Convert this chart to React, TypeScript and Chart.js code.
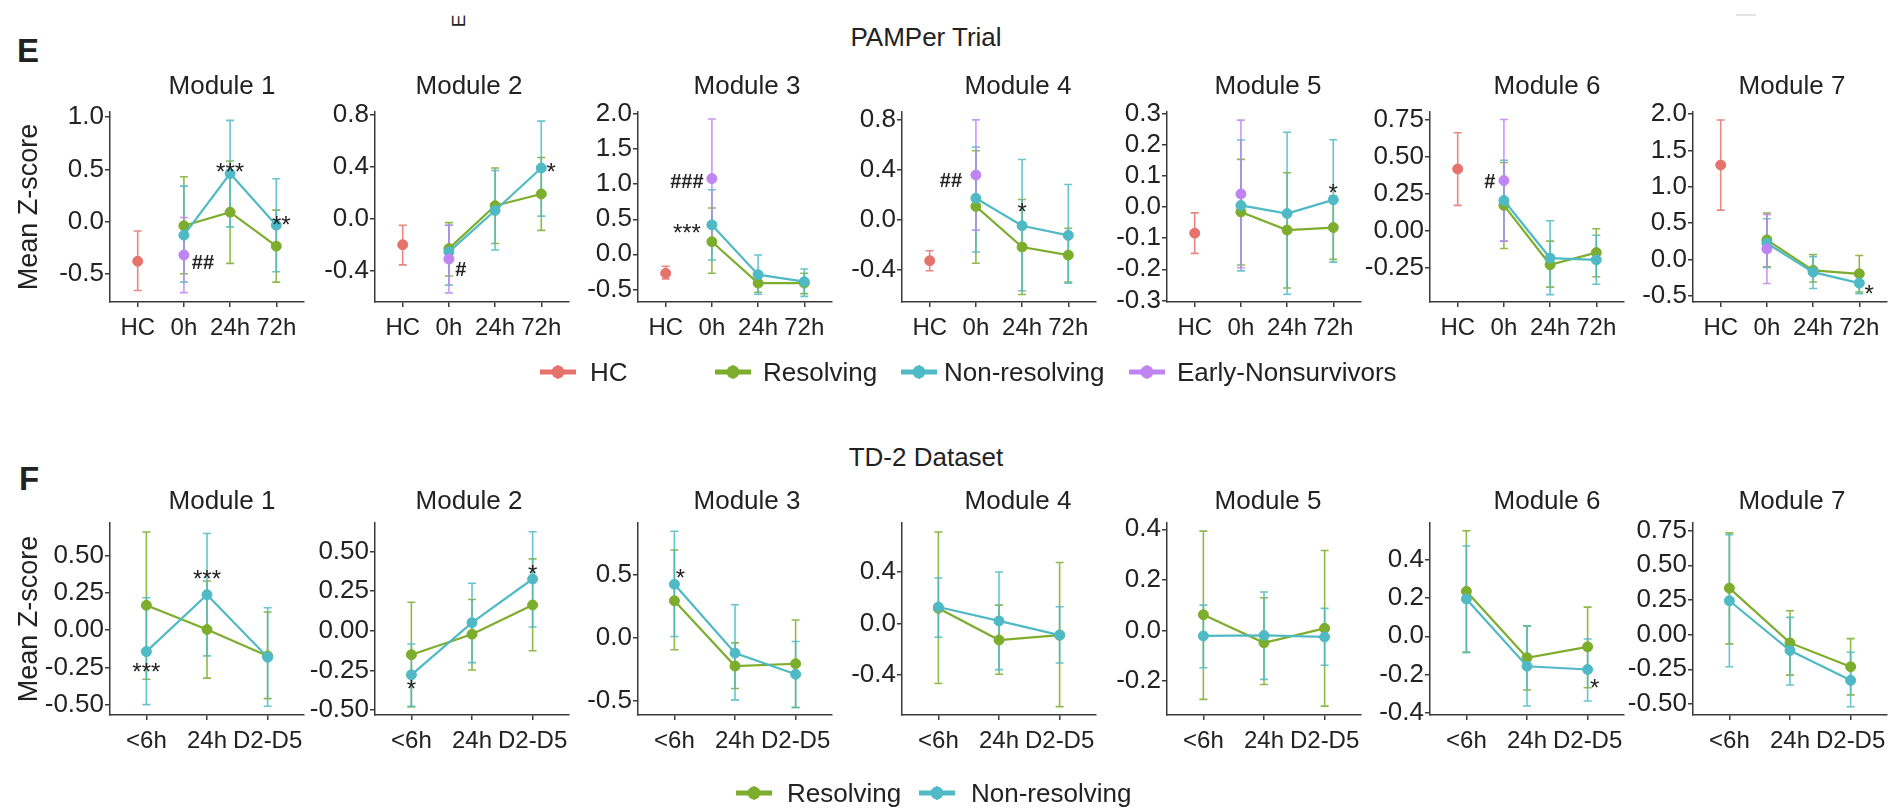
import React, { useEffect, useRef } from 'react';
import { Chart, registerables } from 'chart.js';

Chart.register(...registerables);

const FONT = "'Liberation Sans', Arial, Helvetica, sans-serif";

// ---------------- labels / categories ----------------
const modules = ['Module 1', 'Module 2', 'Module 3', 'Module 4', 'Module 5', 'Module 6', 'Module 7'];
const pamperTimes = ['HC', '0h', '24h', '72h'];
const td2Times = ['<6h', '24h', 'D2-D5'];
const pamperGroups = ['HC', 'Resolving', 'Non-resolving', 'Early-Nonsurvivors'];
const td2Groups = ['Resolving', 'Non-resolving'];

// ---------------- PAMPer data (one entry per module) ----------------
const pamperHCMean = [-0.38, -0.2, -0.27, -0.33, -0.084, 0.416, 1.3];
const pamperHCLow = [-0.66, -0.355, -0.35, -0.41, -0.149, 0.171, 0.68];
const pamperHCHigh = [-0.09, -0.05, -0.17, -0.25, -0.019, 0.66, 1.92];

const pamperEarlyMean = [-0.32, -0.31, 1.08, 0.356, 0.042, 0.338, 0.146];
const pamperEarlyLow = [-0.68, -0.57, 0.17, -0.085, -0.195, -0.07, -0.33];
const pamperEarlyHigh = [0.04, -0.05, 1.93, 0.797, 0.279, 0.749, 0.62];

// Resolving / Non-resolving at 0h, 24h, 72h
const pamperResMean = [
  [-0.04, 0.09, -0.235],
  [-0.23, 0.1, 0.19],
  [0.18, -0.41, -0.41],
  [0.105, -0.22, -0.285],
  [-0.016, -0.074, -0.066],
  [0.171, -0.229, -0.147],
  [0.27, -0.15, -0.197],
];
const pamperResLow = [
  [-0.5, -0.4, -0.58],
  [-0.44, -0.19, -0.09],
  [-0.27, -0.54, -0.56],
  [-0.35, -0.6, -0.5],
  [-0.186, -0.26, -0.168],
  [-0.12, -0.38, -0.31],
  [-0.1, -0.31, -0.447],
];
const pamperResHigh = [
  [0.43, 0.58, 0.11],
  [-0.03, 0.39, 0.47],
  [0.66, -0.28, -0.27],
  [0.55, 0.16, -0.07],
  [0.153, 0.11, 0.036],
  [0.46, -0.07, 0.013],
  [0.64, 0.069, 0.055],
];
const pamperNonMean = [
  [-0.13, 0.46, -0.035],
  [-0.255, 0.063, 0.39],
  [0.42, -0.29, -0.39],
  [0.17, -0.05, -0.127],
  [0.005, -0.021, 0.023],
  [0.204, -0.184, -0.196],
  [0.224, -0.174, -0.325],
];
const pamperNonLow = [
  [-0.58, -0.05, -0.48],
  [-0.51, -0.24, 0.02],
  [-0.08, -0.57, -0.6],
  [-0.26, -0.57, -0.51],
  [-0.205, -0.28, -0.177],
  [-0.07, -0.43, -0.36],
  [-0.11, -0.4, -0.47],
];
const pamperNonHigh = [
  [0.34, 0.97, 0.41],
  [-0.05, 0.37, 0.75],
  [0.92, -0.01, -0.21],
  [0.58, 0.48, 0.28],
  [0.215, 0.24, 0.216],
  [0.475, 0.067, -0.03],
  [0.56, 0.04, -0.185],
];

// ---------------- TD-2 data (<6h, 24h, D2-D5) ----------------
const td2ResMean = [
  [0.167, 0.004, -0.173],
  [-0.15, -0.021, 0.163],
  [0.297, -0.221, -0.203],
  [0.118, -0.128, -0.09],
  [0.062, -0.049, 0.008],
  [0.234, -0.112, -0.055],
  [0.335, -0.06, -0.232],
];
const td2ResLow = [
  [-0.33, -0.322, -0.46],
  [-0.48, -0.246, -0.125],
  [-0.092, -0.4, -0.55],
  [-0.465, -0.394, -0.645],
  [-0.273, -0.214, -0.3],
  [-0.082, -0.28, -0.268],
  [-0.067, -0.292, -0.435],
];
const td2ResHigh = [
  [0.66, 0.33, 0.122],
  [0.181, 0.198, 0.454],
  [0.7, -0.037, 0.145],
  [0.71, 0.143, 0.473],
  [0.393, 0.129, 0.316],
  [0.55, 0.055, 0.152],
  [0.734, 0.172, -0.029],
];
const td2NonMean = [
  [-0.144, 0.238, -0.182],
  [-0.277, 0.052, 0.327],
  [0.429, -0.118, -0.287],
  [0.128, 0.02, -0.09],
  [-0.022, -0.02, -0.026],
  [0.194, -0.156, -0.173],
  [0.244, -0.115, -0.33],
];
const td2NonLow = [
  [-0.5, -0.173, -0.511],
  [-0.475, -0.2, 0.025],
  [0.013, -0.49, -0.55],
  [-0.107, -0.358, -0.307],
  [-0.148, -0.194, -0.138],
  [-0.086, -0.363, -0.337],
  [-0.232, -0.364, -0.52],
];
const td2NonHigh = [
  [0.218, 0.649, 0.151],
  [-0.083, 0.3, 0.625],
  [0.85, 0.266, -0.026],
  [0.353, 0.4, 0.13],
  [0.1, 0.152, 0.087],
  [0.47, 0.052, -0.014],
  [0.72, 0.124, -0.127],
];

// ---------------- axis ranges / ticks ----------------
const pamperYMin = [-0.77, -0.64, -0.68, -0.66, -0.305, -0.48, -0.585];
const pamperYMax = [1.05, 0.82, 2.03, 0.86, 0.305, 0.8, 2.03];
const pamperYStep = [0.5, 0.4, 0.5, 0.4, 0.1, 0.25, 0.5];
const pamperYDecimals = [1, 1, 1, 1, 1, 2, 1];
const td2YMin = [-0.57, -0.53, -0.61, -0.71, -0.335, -0.41, -0.58];
const td2YMax = [0.72, 0.68, 0.915, 0.78, 0.425, 0.59, 0.805];
const td2YStep = [0.25, 0.25, 0.5, 0.4, 0.2, 0.2, 0.25];
const td2YDecimals = [2, 2, 1, 1, 1, 1, 2];

// ---------------- significance marks: [module, time index, series, text] ----------------
const pamperMarks: [number, number, string, string][] = [
  [0, 2, 'non', '***'],
  [0, 3, 'non', '**'],
  [0, 1, 'early', '##'],
  [1, 3, 'non', '*'],
  [1, 1, 'early', '#'],
  [2, 1, 'early', '###'],
  [2, 1, 'non', '***'],
  [3, 1, 'early', '##'],
  [3, 2, 'non', '*'],
  [4, 3, 'non', '*'],
  [5, 1, 'early', '#'],
  [6, 3, 'non', '*'],
];
const td2Marks: [number, number, string, string][] = [
  [0, 0, 'non', '***'],
  [0, 1, 'non', '***'],
  [1, 0, 'non', '*'],
  [1, 2, 'non', '*'],
  [2, 0, 'non', '*'],
  [5, 2, 'non', '*'],
];

// ---------------- layout & style (not data) ----------------
const COLORS: Record<string, string> = {
  hc: '#E5736B',
  res: '#7DAD2D',
  non: '#4FBAC5',
  early: '#BE85F3',
};
const AXIS_COLOR = '#3a3a3a';
const TEXT_COLOR = '#222';
const axisXPos = [110, 375, 638, 902, 1167, 1430, 1693];
const PLOT_W = 194;
const titleShift = [15, -3, 12, 19, 4, 20, 2];
const ROW_LAYOUT: Record<string, { plotTop: number; plotBottom: number; titleGap: number }> = {
  pamper: { plotTop: 112, plotBottom: 302, titleGap: 25 },
  td2: { plotTop: 523, plotBottom: 715, titleGap: 21 },
};
const pamperMarkOffsets = [
  [0, -7], [5, -6], [19, 7], [10, -1], [12, 10], [-25, 2], [-25, 3], [-25, 5], [0, -19], [0, -12], [-14, 0], [10, 5],
];
const td2MarkOffsets = [
  [0, 15], [0, -21], [0, 9], [0, -11], [6, -12], [7, 13],
];

type Bar = { x: number; lo: number; hi: number; color: string };
type Mark = { x: number; y: number; text: string; dx: number; dy: number };

function makeTicks(min: number, max: number, step: number) {
  const out: number[] = [];
  const start = Math.ceil(min / step - 1e-9);
  const end = Math.floor(max / step + 1e-9);
  for (let k = start; k <= end; k++) out.push(Math.round(k * step * 1000) / 1000);
  return out;
}

function panelSpec(row: 'pamper' | 'td2', m: number) {
  const isTop = row === 'pamper';
  const cats = isTop ? pamperTimes : td2Times;
  const datasets: any[] = [];
  const bars: Bar[] = [];
  const marks: Mark[] = [];

  const lineDs = (label: string, pts: { x: number; y: number }[], color: string, order: number) => ({
    label,
    data: pts,
    borderColor: color,
    backgroundColor: color,
    pointBackgroundColor: color,
    pointBorderColor: color,
    pointBorderWidth: 1,
    pointRadius: 5,
    borderWidth: 2.2,
    showLine: pts.length > 1,
    order,
    clip: false,
  });

  if (isTop) {
    const xs = [2, 3, 4];
    const hcPt = [{ x: 1, y: pamperHCMean[m] }];
    const earlyPt = [{ x: 2, y: pamperEarlyMean[m] }];
    const resPts = xs.map((x, i) => ({ x, y: pamperResMean[m][i] }));
    const nonPts = xs.map((x, i) => ({ x, y: pamperNonMean[m][i] }));
    datasets.push(lineDs(pamperGroups[3], earlyPt, COLORS.early, 0));
    datasets.push(lineDs(pamperGroups[2], nonPts, COLORS.non, 1));
    datasets.push(lineDs(pamperGroups[1], resPts, COLORS.res, 2));
    datasets.push(lineDs(pamperGroups[0], hcPt, COLORS.hc, 3));
    bars.push({ x: 1, lo: pamperHCLow[m], hi: pamperHCHigh[m], color: COLORS.hc });
    xs.forEach((x, i) => bars.push({ x, lo: pamperResLow[m][i], hi: pamperResHigh[m][i], color: COLORS.res }));
    xs.forEach((x, i) => bars.push({ x, lo: pamperNonLow[m][i], hi: pamperNonHigh[m][i], color: COLORS.non }));
    bars.push({ x: 2, lo: pamperEarlyLow[m], hi: pamperEarlyHigh[m], color: COLORS.early });
    pamperMarks.forEach((mk, k) => {
      if (mk[0] !== m) return;
      const t = mk[1];
      const s = mk[2];
      let y = 0;
      if (s === 'early') y = pamperEarlyMean[m];
      else if (s === 'hc') y = pamperHCMean[m];
      else if (s === 'res') y = pamperResMean[m][t - 1];
      else y = pamperNonMean[m][t - 1];
      marks.push({ x: t + 1, y, text: mk[3], dx: pamperMarkOffsets[k][0], dy: pamperMarkOffsets[k][1] });
    });
  } else {
    const xs = [1, 2, 3];
    const resPts = xs.map((x, i) => ({ x, y: td2ResMean[m][i] }));
    const nonPts = xs.map((x, i) => ({ x, y: td2NonMean[m][i] }));
    datasets.push(lineDs(td2Groups[1], nonPts, COLORS.non, 1));
    datasets.push(lineDs(td2Groups[0], resPts, COLORS.res, 2));
    xs.forEach((x, i) => bars.push({ x, lo: td2ResLow[m][i], hi: td2ResHigh[m][i], color: COLORS.res }));
    xs.forEach((x, i) => bars.push({ x, lo: td2NonLow[m][i], hi: td2NonHigh[m][i], color: COLORS.non }));
    td2Marks.forEach((mk, k) => {
      if (mk[0] !== m) return;
      const t = mk[1];
      const y = mk[2] === 'res' ? td2ResMean[m][t] : td2NonMean[m][t];
      marks.push({ x: t + 1, y, text: mk[3], dx: td2MarkOffsets[k][0], dy: td2MarkOffsets[k][1] });
    });
  }

  const yMin = isTop ? pamperYMin[m] : td2YMin[m];
  const yMax = isTop ? pamperYMax[m] : td2YMax[m];
  const yStep = isTop ? pamperYStep[m] : td2YStep[m];
  const yDec = isTop ? pamperYDecimals[m] : td2YDecimals[m];
  const yTicks = makeTicks(yMin, yMax, yStep);

  const lay = ROW_LAYOUT[row];
  const ax = axisXPos[m];
  const left = m === 0 ? 0 : ax - 82;
  const plotRight = ax + PLOT_W;
  const right = Math.min(plotRight + 16, 1898);
  const padTop = 56;
  const xAxisH = 50;
  const canvasTop = lay.plotTop - padTop;
  const height = lay.plotBottom + xAxisH - canvasTop;
  const width = right - left;

  const extras = {
    id: 'panelExtras',
    beforeDatasetsDraw(chart: any) {
      const { ctx, scales } = chart;
      const xs = scales.x;
      const ys = scales.y;
      ctx.save();
      ctx.lineWidth = 1.6;
      ctx.globalAlpha = 0.85;
      bars.forEach((b) => {
        const px = xs.getPixelForValue(b.x);
        const pl = ys.getPixelForValue(b.lo);
        const ph = ys.getPixelForValue(b.hi);
        const cap = 4;
        ctx.strokeStyle = b.color;
        ctx.beginPath();
        ctx.moveTo(px, pl);
        ctx.lineTo(px, ph);
        ctx.moveTo(px - cap, pl);
        ctx.lineTo(px + cap, pl);
        ctx.moveTo(px - cap, ph);
        ctx.lineTo(px + cap, ph);
        ctx.stroke();
      });
      ctx.restore();
    },
    afterDraw(chart: any) {
      const { ctx, scales, chartArea } = chart;
      ctx.save();
      ctx.fillStyle = TEXT_COLOR;
      ctx.font = `26px ${FONT}`;
      ctx.textAlign = 'center';
      ctx.textBaseline = 'middle';
      ctx.fillText(modules[m], (chartArea.left + chartArea.right) / 2 + titleShift[m], chartArea.top - lay.titleGap);
      marks.forEach((mk) => {
        const px = scales.x.getPixelForValue(mk.x) + mk.dx;
        const py = scales.y.getPixelForValue(mk.y) + mk.dy;
        ctx.textAlign = 'center';
        ctx.textBaseline = 'alphabetic';
        if (mk.text.includes('*')) {
          ctx.font = `24px ${FONT}`;
          ctx.fillText(mk.text, px, py + 13.5);
        } else {
          ctx.font = `bold 20px ${FONT}`;
          ctx.fillText(mk.text, px, py + 7);
        }
      });
      ctx.restore();
    },
  };

  const config: any = {
    type: 'line',
    data: { datasets },
    options: {
      responsive: false,
      animation: false,
      events: [],
      devicePixelRatio: 1,
      layout: { padding: { top: padTop, right: right - plotRight, bottom: 0, left: 0 } },
      plugins: { legend: { display: false }, tooltip: { enabled: false }, title: { display: false } },
      scales: {
        x: {
          type: 'linear',
          min: 0.4,
          max: cats.length + 0.6,
          afterBuildTicks: (s: any) => {
            s.ticks = cats.map((_, i) => ({ value: i + 1 }));
          },
          afterFit: (s: any) => {
            s.height = xAxisH;
          },
          ticks: {
            autoSkip: false,
            maxRotation: 0,
            minRotation: 0,
            padding: 7,
            color: TEXT_COLOR,
            font: { family: FONT, size: 24 },
            callback: (v: any) => cats[Math.round(Number(v)) - 1] ?? '',
          },
          grid: { display: true, drawOnChartArea: false, drawTicks: true, tickLength: 5, color: AXIS_COLOR, lineWidth: 1.5 },
          border: { display: true, color: AXIS_COLOR, width: 1.5 },
        },
        y: {
          type: 'linear',
          min: yMin,
          max: yMax,
          afterBuildTicks: (s: any) => {
            s.ticks = yTicks.map((v) => ({ value: v }));
          },
          afterFit: (s: any) => {
            s.width = ax - left;
          },
          ticks: {
            autoSkip: false,
            padding: 1,
            color: TEXT_COLOR,
            font: { family: FONT, size: 26 },
            callback: (v: any) => Number(v).toFixed(yDec),
          },
          grid: { display: true, drawOnChartArea: false, drawTicks: true, tickLength: 5, color: AXIS_COLOR, lineWidth: 1.5 },
          border: { display: true, color: AXIS_COLOR, width: 1.5 },
          title: {
            display: m === 0,
            text: 'Mean Z-score',
            color: TEXT_COLOR,
            font: { family: FONT, size: 27 },
            padding: { top: 13, bottom: 0 },
          },
        },
      },
    },
    plugins: [extras],
  };

  return { config, left, top: canvasTop, width, height };
}

function Panel({ row, m }: { row: 'pamper' | 'td2'; m: number }) {
  const ref = useRef<HTMLCanvasElement>(null);
  const spec = panelSpec(row, m);
  useEffect(() => {
    const s = panelSpec(row, m);
    const chart = new Chart(ref.current as HTMLCanvasElement, s.config);
    return () => chart.destroy();
  }, [row, m]);
  return (
    <canvas
      ref={ref}
      width={spec.width}
      height={spec.height}
      style={{ position: 'absolute', left: spec.left, top: spec.top, width: spec.width, height: spec.height }}
    />
  );
}

function LegendKey({ color, cx, cy }: { color: string; cx: number; cy: number }) {
  return (
    <svg style={{ position: 'absolute', left: cx - 19, top: cy - 9 }} width={38} height={18}>
      <line x1={1} y1={9} x2={37} y2={9} stroke={color} strokeWidth={5} />
      <line x1={19} y1={2} x2={19} y2={16} stroke={color} strokeWidth={2} opacity={0.8} />
      <circle cx={19} cy={9} r={6.5} fill={color} />
    </svg>
  );
}

function LegendText({ text, x, cy }: { text: string; x: number; cy: number }) {
  return (
    <div style={{ position: 'absolute', left: x, top: cy - 15, height: 30, lineHeight: '30px', fontSize: 26, whiteSpace: 'nowrap' }}>
      {text}
    </div>
  );
}

function CenterText({ text, x, y, size, bold, rotate }: { text: string; x: number; y: number; size: number; bold?: boolean; rotate?: number }) {
  return (
    <div
      style={{
        position: 'absolute',
        left: x,
        top: y,
        fontSize: size,
        lineHeight: 1,
        fontWeight: bold ? 700 : 400,
        whiteSpace: 'nowrap',
        transform: `translate(-50%, -50%)${rotate ? ` rotate(${rotate}deg)` : ''}`,
      }}
    >
      {text}
    </div>
  );
}

export default function App() {
  const idx = [0, 1, 2, 3, 4, 5, 6];
  return (
    <div
      style={{
        position: 'absolute',
        left: 0,
        top: 0,
        width: 1898,
        height: 808,
        overflow: 'hidden',
        background: '#ffffff',
        fontFamily: FONT,
        color: TEXT_COLOR,
      }}
    >
      <CenterText text="E" x={28} y={50} size={33} bold />
      <CenterText text="E" x={458} y={21} size={19} rotate={-90} />
      <div style={{ position: 'absolute', left: 1736, top: 14, width: 20, height: 2, background: '#e4e4e4' }} />
      <CenterText text="PAMPer Trial" x={926} y={37} size={26} />
      <CenterText text="F" x={29} y={478} size={33} bold />
      <CenterText text="TD-2 Dataset" x={926} y={457} size={26} />

      {idx.map((m) => (
        <Panel key={`p${m}`} row="pamper" m={m} />
      ))}
      {idx.map((m) => (
        <Panel key={`t${m}`} row="td2" m={m} />
      ))}

      <LegendKey color={COLORS.hc} cx={558} cy={372} />
      <LegendText text={pamperGroups[0]} x={590} cy={372} />
      <LegendKey color={COLORS.res} cx={733} cy={372} />
      <LegendText text={pamperGroups[1]} x={763} cy={372} />
      <LegendKey color={COLORS.non} cx={919} cy={372} />
      <LegendText text={pamperGroups[2]} x={944} cy={372} />
      <LegendKey color={COLORS.early} cx={1147} cy={372} />
      <LegendText text={pamperGroups[3]} x={1177} cy={372} />

      <LegendKey color={COLORS.res} cx={754} cy={793} />
      <LegendText text={td2Groups[0]} x={787} cy={793} />
      <LegendKey color={COLORS.non} cx={937} cy={793} />
      <LegendText text={td2Groups[1]} x={971} cy={793} />
    </div>
  );
}
